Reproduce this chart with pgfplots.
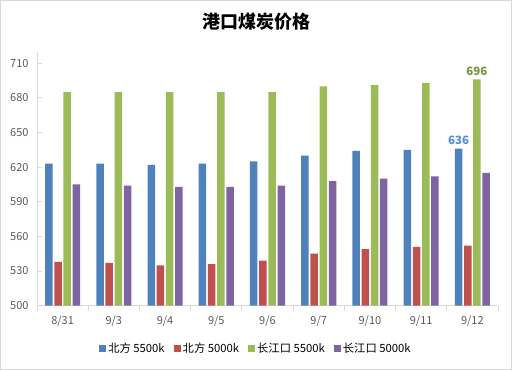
\documentclass[border=0pt]{standalone}
\usepackage{fontspec}
\setmainfont{Noto Sans CJK SC}
\usepackage{pgfplots}
\pgfplotsset{compat=1.18}
\definecolor{cblue}{HTML}{4F81BD}
\definecolor{cred}{HTML}{C0504D}
\definecolor{cgreen}{HTML}{9BBB59}
\definecolor{cpurple}{HTML}{8064A2}
\definecolor{axgray}{HTML}{D9D9D9}
\definecolor{txtgray}{HTML}{595959}
\definecolor{lblblue}{HTML}{558ED5}
\definecolor{lblgreen}{HTML}{77933C}
\begin{document}
\begin{tikzpicture}[x=1pt,y=1pt]
\path[use as bounding box] (0,0) rectangle (512,370);
\draw[axgray,line width=1pt] (0.5,0.5) rectangle (511.5,369.5);
\node[font=\fontsize{18}{20}\selectfont\bfseries] at (256,348) {港口煤炭价格};
\begin{axis}[
  at={(37pt,64.3pt)}, anchor=south west,
  scale only axis, width=461pt, height=254pt,
  ybar=1.7pt, bar width=7.5pt,
  xmin=-0.5, xmax=8.5, ymin=500, ymax=720,
  ytick={500,530,...,710},
  xtick={0,...,8},
  xticklabels={8/31,9/3,9/4,9/5,9/6,9/7,9/10,9/11,9/12},
  minor xtick={-0.5,0.5,...,8.5},
  axis x line*=bottom, axis y line*=left,
  axis line style={axgray, line width=0.8pt},
  x axis line style={-}, y axis line style={-},
  tick align=inside,
  major x tick style={draw=none},
  minor tick length=5pt,
  minor x tick style={axgray, line width=0.8pt, yshift=-5pt},
  major tick length=5pt,
  major y tick style={axgray, line width=0.8pt},
  /pgf/number format/assume math mode=true,
  ticklabel style={font=\fontsize{11}{13}\selectfont, text=txtgray},
  yticklabel style={xshift=-5pt},
  xticklabel style={yshift=-7pt},
  legend style={at={(0.475,-0.17)}, anchor=center, draw=none, fill=none,
    legend columns=4, font=\fontsize{11.3}{13}\selectfont,
    /tikz/every even column/.append style={column sep=7pt}},
  legend cell align=left,
  clip=false,
]
\addplot[fill=cblue, draw=none, legend image code/.code={\fill[cblue] (0pt,-3.5pt) rectangle (7pt,3.5pt);}] coordinates {(0,623) (1,623) (2,622) (3,623) (4,625) (5,630) (6,634) (7,635) (8,636)};
\addplot[fill=cred, draw=none, legend image code/.code={\fill[cred] (0pt,-3.5pt) rectangle (7pt,3.5pt);}] coordinates {(0,538) (1,537) (2,535) (3,536) (4,539) (5,545) (6,549) (7,551) (8,552)};
\addplot[fill=cgreen, draw=none, legend image code/.code={\fill[cgreen] (0pt,-3.5pt) rectangle (7pt,3.5pt);}] coordinates {(0,685) (1,685) (2,685) (3,685) (4,685) (5,690) (6,691) (7,693) (8,696)};
\addplot[fill=cpurple, draw=none, legend image code/.code={\fill[cpurple] (0pt,-3.5pt) rectangle (7pt,3.5pt);}] coordinates {(0,605) (1,604) (2,603) (3,603) (4,604) (5,608) (6,610) (7,612) (8,615)};
\legend{北方 5500k, 北方 5000k, 长江口 5500k, 长江口 5000k}
\node[font=\fontsize{11.5}{13}\selectfont\bfseries, text=lblblue, anchor=south] at ([xshift=-13.8pt]axis cs:8,636) {636};
\node[font=\fontsize{11.5}{13}\selectfont\bfseries, text=lblgreen, anchor=south] at ([xshift=4.6pt]axis cs:8,696) {696};
\end{axis}
\end{tikzpicture}
\end{document}
